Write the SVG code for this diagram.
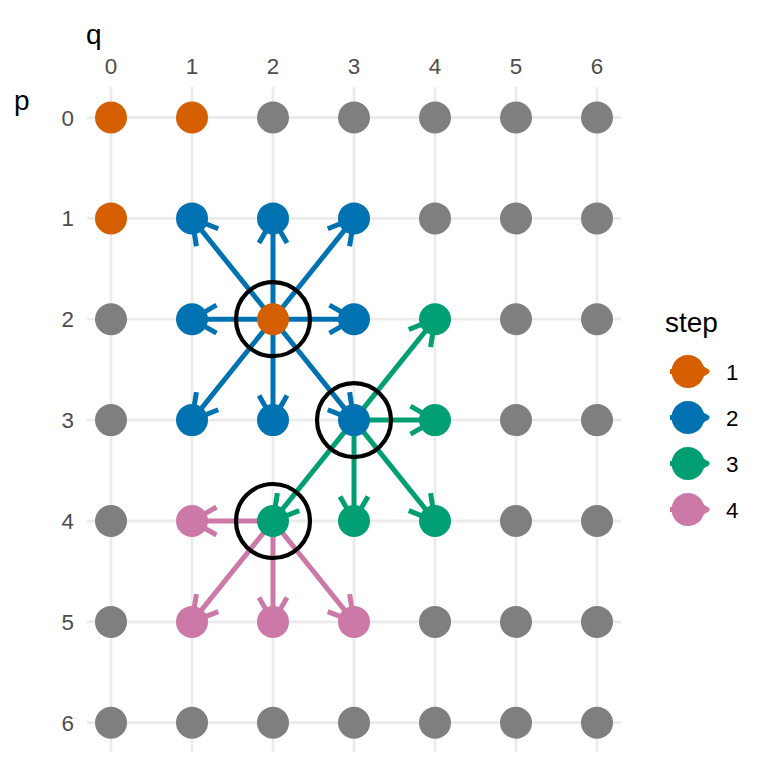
<svg xmlns="http://www.w3.org/2000/svg" width="768" height="768" viewBox="0 0 768 768">
  <style>
    .grid line { stroke: #EBEBEB; stroke-width: 2.8; }
    .tick { font-family: "Liberation Sans", Arial, sans-serif; font-size: 22.4px; fill: #4D4D4D; }
    .title { font-family: "Liberation Sans", Arial, sans-serif; font-size: 28px; fill: #000000; }
    .lab { font-family: "Liberation Sans", Arial, sans-serif; font-size: 22.4px; fill: #000000; }
    .edge { fill: none; stroke-width: 5; }
    .s1 { fill: #D55E00; } .s2 { fill: #0072B2; } .s3 { fill: #009E73; } .s4 { fill: #CC79A7; } .s0 { fill: #7F7F7F; }
    .e2 { stroke: #0072B2; } .e3 { stroke: #009E73; } .e4 { stroke: #CC79A7; } .e1 { stroke: #D55E00; }
    .ring { fill: none; stroke: #000000; stroke-width: 4.2; }
    .head { fill: none; stroke-width: 5; stroke-linejoin: round; }
  </style>
  <defs>
    <marker id="a1" markerUnits="userSpaceOnUse" markerWidth="40" markerHeight="40" viewBox="-30 -20 40 40" refX="0" refY="0" orient="auto" overflow="visible">
      <path class="head" d="M-24.5,-14 L0,0 L-24.5,14" stroke="#D55E00"/>
    </marker>
    <marker id="a2" markerUnits="userSpaceOnUse" markerWidth="40" markerHeight="40" viewBox="-30 -20 40 40" refX="0" refY="0" orient="auto" overflow="visible">
      <path class="head" d="M-24.5,-14 L0,0 L-24.5,14" stroke="#0072B2"/>
    </marker>
    <marker id="a3" markerUnits="userSpaceOnUse" markerWidth="40" markerHeight="40" viewBox="-30 -20 40 40" refX="0" refY="0" orient="auto" overflow="visible">
      <path class="head" d="M-24.5,-14 L0,0 L-24.5,14" stroke="#009E73"/>
    </marker>
    <marker id="a4" markerUnits="userSpaceOnUse" markerWidth="40" markerHeight="40" viewBox="-30 -20 40 40" refX="0" refY="0" orient="auto" overflow="visible">
      <path class="head" d="M-24.5,-14 L0,0 L-24.5,14" stroke="#CC79A7"/>
    </marker>
  </defs>
  <rect width="768" height="768" fill="#FFFFFF"/>

  <!-- panel grid -->
  <g class="grid">
    <line x1="111" y1="87" x2="111" y2="752"/>
    <line x1="192" y1="87" x2="192" y2="752"/>
    <line x1="273" y1="87" x2="273" y2="752"/>
    <line x1="354" y1="87" x2="354" y2="752"/>
    <line x1="435" y1="87" x2="435" y2="752"/>
    <line x1="516" y1="87" x2="516" y2="752"/>
    <line x1="597" y1="87" x2="597" y2="752"/>
    <line x1="87" y1="117.5" x2="621" y2="117.5"/>
    <line x1="87" y1="218.4" x2="621" y2="218.4"/>
    <line x1="87" y1="319.2" x2="621" y2="319.2"/>
    <line x1="87" y1="420.1" x2="621" y2="420.1"/>
    <line x1="87" y1="521" x2="621" y2="521"/>
    <line x1="87" y1="621.9" x2="621" y2="621.9"/>
    <line x1="87" y1="722.7" x2="621" y2="722.7"/>
  </g>

  <!-- axes -->
  <g id="axis-q">
    <text class="title" x="86" y="44">q</text>
    <g class="tick" text-anchor="middle">
      <text x="111" y="74">0</text>
      <text x="192" y="74">1</text>
      <text x="273" y="74">2</text>
      <text x="354" y="74">3</text>
      <text x="435" y="74">4</text>
      <text x="516" y="74">5</text>
      <text x="597" y="74">6</text>
    </g>
  </g>
  <g id="axis-p">
    <text class="title" x="14" y="110">p</text>
    <g class="tick" text-anchor="end">
      <text x="74" y="125.5">0</text>
      <text x="74" y="226.4">1</text>
      <text x="74" y="327.2">2</text>
      <text x="74" y="428.1">3</text>
      <text x="74" y="529">4</text>
      <text x="74" y="629.9">5</text>
      <text x="74" y="730.7">6</text>
    </g>
  </g>

  <!-- connectors -->
  <g id="connectors">
    <!-- step 2: from (2,2) -->
    <line class="edge e2" x1="273" y1="319.2" x2="192" y2="218.4" marker-end="url(#a2)"/>
    <line class="edge e2" x1="273" y1="319.2" x2="273" y2="218.4" marker-end="url(#a2)"/>
    <line class="edge e2" x1="273" y1="319.2" x2="354" y2="218.4" marker-end="url(#a2)"/>
    <line class="edge e2" x1="273" y1="319.2" x2="192" y2="319.2" marker-end="url(#a2)"/>
    <line class="edge e2" x1="273" y1="319.2" x2="354" y2="319.2" marker-end="url(#a2)"/>
    <line class="edge e2" x1="273" y1="319.2" x2="192" y2="420.1" marker-end="url(#a2)"/>
    <line class="edge e2" x1="273" y1="319.2" x2="273" y2="420.1" marker-end="url(#a2)"/>
    <line class="edge e2" x1="273" y1="319.2" x2="354" y2="420.1" marker-end="url(#a2)"/>
    <!-- step 3: from (3,3) -->
    <line class="edge e3" x1="354" y1="420.1" x2="435" y2="319.2" marker-end="url(#a3)"/>
    <line class="edge e3" x1="354" y1="420.1" x2="435" y2="420.1" marker-end="url(#a3)"/>
    <line class="edge e3" x1="354" y1="420.1" x2="273" y2="521" marker-end="url(#a3)"/>
    <line class="edge e3" x1="354" y1="420.1" x2="354" y2="521" marker-end="url(#a3)"/>
    <line class="edge e3" x1="354" y1="420.1" x2="435" y2="521" marker-end="url(#a3)"/>
    <!-- step 4: from (4,2) -->
    <line class="edge e4" x1="273" y1="521" x2="192" y2="521" marker-end="url(#a4)"/>
    <line class="edge e4" x1="273" y1="521" x2="192" y2="621.9" marker-end="url(#a4)"/>
    <line class="edge e4" x1="273" y1="521" x2="273" y2="621.9" marker-end="url(#a4)"/>
    <line class="edge e4" x1="273" y1="521" x2="354" y2="621.9" marker-end="url(#a4)"/>
  </g>

  <!-- nodes (p,q) -->
  <g id="nodes">
    <g id="n0-0"><circle class="s1" cx="111" cy="117.5" r="16"/></g>
    <g id="n0-1"><circle class="s1" cx="192" cy="117.5" r="16"/></g>
    <g id="n0-2"><circle class="s0" cx="273" cy="117.5" r="16"/></g>
    <g id="n0-3"><circle class="s0" cx="354" cy="117.5" r="16"/></g>
    <g id="n0-4"><circle class="s0" cx="435" cy="117.5" r="16"/></g>
    <g id="n0-5"><circle class="s0" cx="516" cy="117.5" r="16"/></g>
    <g id="n0-6"><circle class="s0" cx="597" cy="117.5" r="16"/></g>

    <g id="n1-0"><circle class="s1" cx="111" cy="218.4" r="16"/></g>
    <g id="n1-1"><circle class="s2" cx="192" cy="218.4" r="16"/></g>
    <g id="n1-2"><circle class="s2" cx="273" cy="218.4" r="16"/></g>
    <g id="n1-3"><circle class="s2" cx="354" cy="218.4" r="16"/></g>
    <g id="n1-4"><circle class="s0" cx="435" cy="218.4" r="16"/></g>
    <g id="n1-5"><circle class="s0" cx="516" cy="218.4" r="16"/></g>
    <g id="n1-6"><circle class="s0" cx="597" cy="218.4" r="16"/></g>

    <g id="n2-0"><circle class="s0" cx="111" cy="319.2" r="16"/></g>
    <g id="n2-1"><circle class="s2" cx="192" cy="319.2" r="16"/></g>
    <g id="n2-2"><circle class="s1" cx="273" cy="319.2" r="16"/></g>
    <g id="n2-3"><circle class="s2" cx="354" cy="319.2" r="16"/></g>
    <g id="n2-4"><circle class="s3" cx="435" cy="319.2" r="16"/></g>
    <g id="n2-5"><circle class="s0" cx="516" cy="319.2" r="16"/></g>
    <g id="n2-6"><circle class="s0" cx="597" cy="319.2" r="16"/></g>

    <g id="n3-0"><circle class="s0" cx="111" cy="420.1" r="16"/></g>
    <g id="n3-1"><circle class="s2" cx="192" cy="420.1" r="16"/></g>
    <g id="n3-2"><circle class="s2" cx="273" cy="420.1" r="16"/></g>
    <g id="n3-3"><circle class="s2" cx="354" cy="420.1" r="16"/></g>
    <g id="n3-4"><circle class="s3" cx="435" cy="420.1" r="16"/></g>
    <g id="n3-5"><circle class="s0" cx="516" cy="420.1" r="16"/></g>
    <g id="n3-6"><circle class="s0" cx="597" cy="420.1" r="16"/></g>

    <g id="n4-0"><circle class="s0" cx="111" cy="521" r="16"/></g>
    <g id="n4-1"><circle class="s4" cx="192" cy="521" r="16"/></g>
    <g id="n4-2"><circle class="s3" cx="273" cy="521" r="16"/></g>
    <g id="n4-3"><circle class="s3" cx="354" cy="521" r="16"/></g>
    <g id="n4-4"><circle class="s3" cx="435" cy="521" r="16"/></g>
    <g id="n4-5"><circle class="s0" cx="516" cy="521" r="16"/></g>
    <g id="n4-6"><circle class="s0" cx="597" cy="521" r="16"/></g>

    <g id="n5-0"><circle class="s0" cx="111" cy="621.9" r="16"/></g>
    <g id="n5-1"><circle class="s4" cx="192" cy="621.9" r="16"/></g>
    <g id="n5-2"><circle class="s4" cx="273" cy="621.9" r="16"/></g>
    <g id="n5-3"><circle class="s4" cx="354" cy="621.9" r="16"/></g>
    <g id="n5-4"><circle class="s0" cx="435" cy="621.9" r="16"/></g>
    <g id="n5-5"><circle class="s0" cx="516" cy="621.9" r="16"/></g>
    <g id="n5-6"><circle class="s0" cx="597" cy="621.9" r="16"/></g>

    <g id="n6-0"><circle class="s0" cx="111" cy="722.7" r="16"/></g>
    <g id="n6-1"><circle class="s0" cx="192" cy="722.7" r="16"/></g>
    <g id="n6-2"><circle class="s0" cx="273" cy="722.7" r="16"/></g>
    <g id="n6-3"><circle class="s0" cx="354" cy="722.7" r="16"/></g>
    <g id="n6-4"><circle class="s0" cx="435" cy="722.7" r="16"/></g>
    <g id="n6-5"><circle class="s0" cx="516" cy="722.7" r="16"/></g>
    <g id="n6-6"><circle class="s0" cx="597" cy="722.7" r="16"/></g>
  </g>

  <!-- expanded cells -->
  <g id="rings">
    <circle class="ring" cx="273" cy="319.2" r="37"/>
    <circle class="ring" cx="354" cy="420.1" r="37"/>
    <circle class="ring" cx="273" cy="521" r="37"/>
  </g>

  <!-- legend -->
  <g id="legend">
    <text class="title" x="665" y="331.5">step</text>
    <g id="key-1">
      <line class="edge e1" x1="670" y1="371.5" x2="707" y2="371.5" marker-end="url(#a1)"/>
      <circle class="s1" cx="688" cy="371.5" r="16.5"/>
      <text class="lab" x="726" y="379.5">1</text>
    </g>
    <g id="key-2">
      <line class="edge e2" x1="670" y1="417.5" x2="707" y2="417.5" marker-end="url(#a2)"/>
      <circle class="s2" cx="688" cy="417.5" r="16.5"/>
      <text class="lab" x="726" y="425.5">2</text>
    </g>
    <g id="key-3">
      <line class="edge e3" x1="670" y1="463.5" x2="707" y2="463.5" marker-end="url(#a3)"/>
      <circle class="s3" cx="688" cy="463.5" r="16.5"/>
      <text class="lab" x="726" y="471.5">3</text>
    </g>
    <g id="key-4">
      <line class="edge e4" x1="670" y1="509.5" x2="707" y2="509.5" marker-end="url(#a4)"/>
      <circle class="s4" cx="688" cy="509.5" r="16.5"/>
      <text class="lab" x="726" y="517.5">4</text>
    </g>
  </g>
</svg>
